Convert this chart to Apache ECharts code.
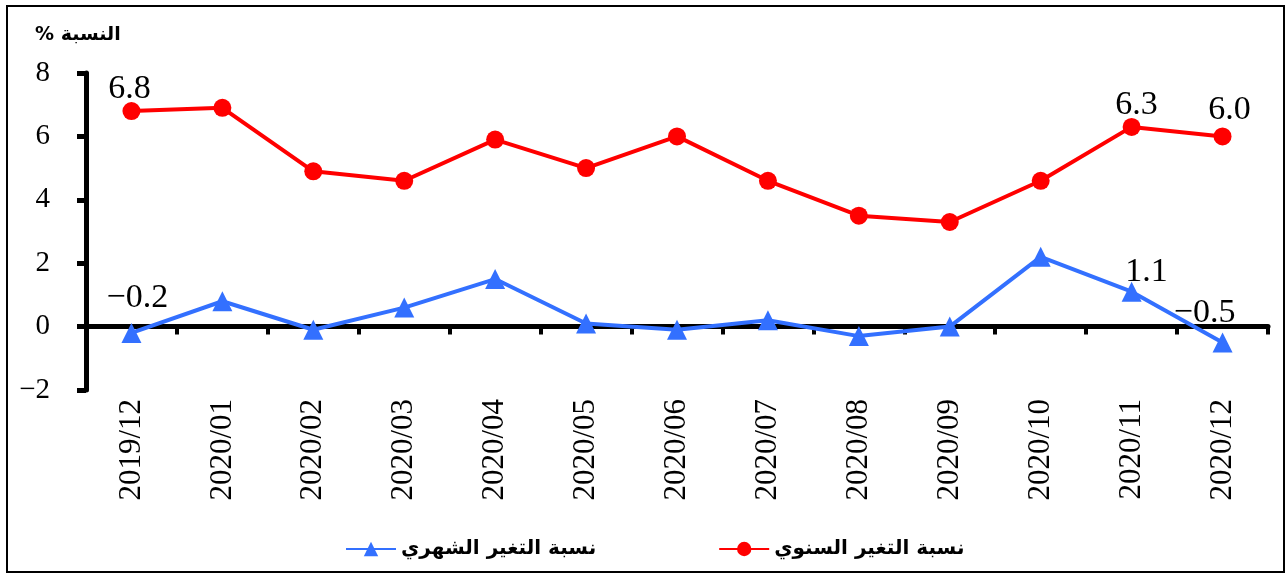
<!DOCTYPE html>
<html><head><meta charset="utf-8">
<script src="https://cdn.jsdelivr.net/npm/echarts@6/dist/echarts.min.js"></script>
<style>html,body{margin:0;padding:0;background:#fff}#c{width:1286px;height:575px}</style>
</head><body><div id="c"></div>
<script>
const categories = ['2019/12','2020/01','2020/02','2020/03','2020/04','2020/05','2020/06','2020/07','2020/08','2020/09','2020/10','2020/11','2020/12'];
const annualChange = [6.8, 6.9, 4.9, 4.6, 5.9, 5.0, 6.0, 4.6, 3.5, 3.3, 4.6, 6.3, 6.0];
const monthlyChange = [-0.2, 0.8, -0.1, 0.6, 1.5, 0.1, -0.1, 0.2, -0.3, 0.0, 2.2, 1.1, -0.5];
const yTicks = [-2, 0, 2, 4, 6, 8];
const annualName = 'نسبة التغير السنوي';
const monthlyName = 'نسبة التغير الشهري';
const yAxisTitle = '% النسبة';

const serif = '"Liberation Serif", "DejaVu Serif", serif';
const arab = '"DejaVu Sans", sans-serif';
const fmt = v => String(v.toFixed(1)).replace('-', '\u2212');

const annualLabels = {0: [-2, 4], 11: [5, 4], 12: [7, 0]};
const monthlyLabels = {0: [6, -8], 11: [15, 7], 12: [-18, -2]};

function build(vals, labels) {
  return vals.map((v, i) => {
    const item = {value: v};
    if (labels[i]) {
      item.label = {show: true, position: 'top', offset: labels[i], formatter: p => fmt(p.value),
        fontFamily: serif, fontSize: 34, color: '#000', distance: 0};
    }
    return item;
  });
}

const chart = echarts.init(document.getElementById('c'));
chart.setOption({
  animation: false,
  grid: {left: 86, right: 18, top: 73, bottom: 185, containLabel: false},
  legend: {
    bottom: 11, left: 340, itemGap: 122, itemWidth: 50, itemHeight: 18,
    data: [monthlyName, annualName],
    textStyle: {fontFamily: arab, fontWeight: 'bold', fontSize: 20, color: '#000'}
  },
  graphic: [
    {type: 'rect', shape: {x: 7, y: 6, width: 1277, height: 566}, style: {fill: 'none', stroke: '#000', lineWidth: 2}, silent: true},
    {type: 'text', left: 35, top: 26, style: {text: yAxisTitle, font: 'bold 19px ' + arab, fill: '#000'}}
  ],
  xAxis: [
    {type: 'category', data: categories, boundaryGap: true, position: 'bottom',
     axisLine: {onZero: true, lineStyle: {color: '#000', width: 5}},
     axisTick: {show: true, length: 8, lineStyle: {color: '#000', width: 4}},
     axisLabel: {show: false}, splitLine: {show: false}},
    {type: 'category', data: categories, boundaryGap: true, position: 'bottom',
     axisLine: {show: false, onZero: false}, axisTick: {show: false},
     axisLabel: {rotate: 90, margin: 9, fontFamily: serif, fontSize: 31, color: '#000'},
     splitLine: {show: false}}
  ],
  yAxis: {
    type: 'value', min: yTicks[0], max: yTicks[yTicks.length - 1], interval: 2,
    axisLine: {show: true, lineStyle: {color: '#000', width: 5}},
    axisTick: {show: true, length: 9, lineStyle: {color: '#000', width: 5}},
    axisLabel: {margin: 36, fontFamily: serif, fontSize: 29, color: '#000', formatter: v => String(v).replace('-', '\u2212')},
    splitLine: {show: false}
  },
  series: [
    {name: monthlyName, type: 'line', data: build(monthlyChange, monthlyLabels), xAxisIndex: 0,
     symbol: 'triangle', symbolSize: 20, lineStyle: {color: '#3370FF', width: 4},
     itemStyle: {color: '#3370FF'}, z: 3},
    {name: annualName, type: 'line', data: build(annualChange, annualLabels), xAxisIndex: 0,
     symbol: 'circle', symbolSize: 18, lineStyle: {color: '#FF0000', width: 4},
     itemStyle: {color: '#FF0000'}, z: 3}
  ]
});
</script></body></html>
